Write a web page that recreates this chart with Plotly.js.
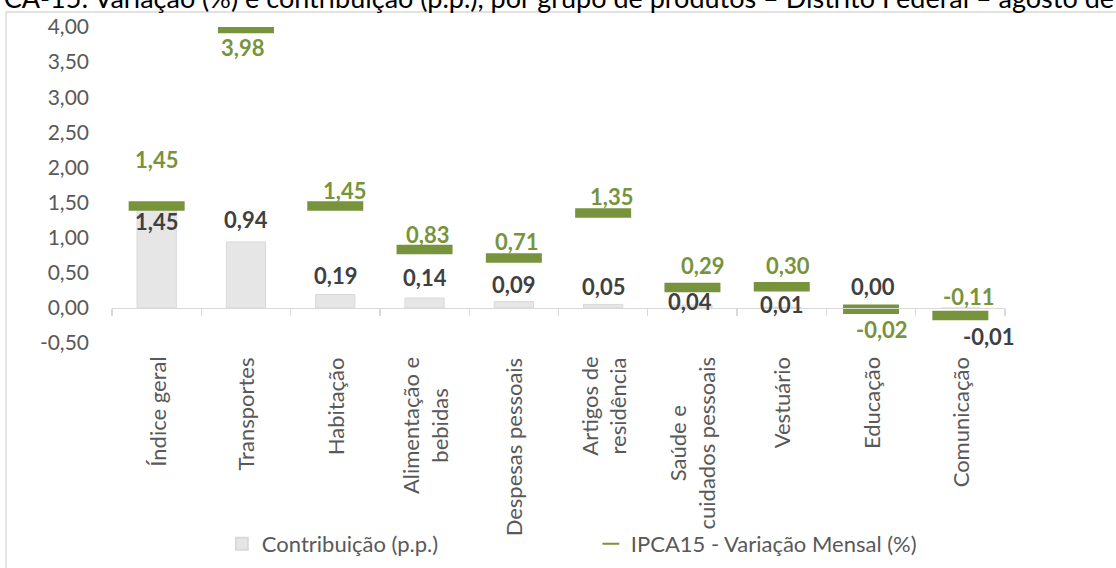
<!DOCTYPE html>
<html><head><meta charset="utf-8">
<script src="https://cdn.plot.ly/plotly-3.0.1.min.js"></script>
<style>html,body{margin:0;padding:0;background:#fff;}#chart{width:1116px;height:568px;}</style>
</head><body><div id="chart"></div>
<script>
// ---- data ----
const categories = ['Índice geral','Transportes','Habitação','Alimentação e<br>bebidas','Despesas pessoais','Artigos de<br>residência','Saúde e<br>cuidados pessoais','Vestuário','Educação','Comunicação'];
const contribuicao = [1.45, 0.94, 0.19, 0.14, 0.09, 0.05, 0.04, 0.01, 0.00, -0.01];
const variacao = [1.45, 3.98, 1.45, 0.83, 0.71, 1.35, 0.29, 0.30, -0.02, -0.11];
const yTicks = [-0.5, 0, 0.5, 1, 1.5, 2, 2.5, 3, 3.5, 4];
const seriesNames = ['Contribuição (p.p.)', 'IPCA15 - Variação Mensal (%)'];
const titleText = 'IPCA-15: Variação (%) e contribuição (p.p.), por grupo de produtos – Distrito Federal – agosto de 2022';

// ---- label offsets (style, px) ----
const contribShiftY = [-15, 22, 19, 21, 17, 18, 4, 3, 21, -28];
const contribShiftX = [0, 0, 0, 0, 0, 0, -2, 0, 2, 29];
const varShiftY = [47, -19, 16, 15, 17, 17, 22, 21, -20, 19];
const varShiftX = [0, -3, 9, 3, 3, 8, 10, 6, 11, 9];

const FONT = 'Lato, "Open Sans", sans-serif';
const GREEN = '#77933C';
const DARK = '#404040';
const GREY_TXT = '#595959';
const fmt = v => v.toFixed(2).replace('.', ',');

const traces = [
  {
    type: 'bar', name: seriesNames[0], x: categories, y: contribuicao,
    width: 0.44,
    marker: {color: '#E6E6E6', line: {color: '#D9D9D9', width: 1}},
    hoverinfo: 'skip'
  },
  {
    type: 'scatter', mode: 'markers', name: seriesNames[1], x: categories, y: variacao,
    marker: {symbol: 'line-ew', size: 40, color: GREEN, line: {color: GREEN, width: 9.5}},
    hoverinfo: 'skip'
  }
];

const annotations = [];
categories.forEach((c, i) => {
  annotations.push({
    x: c, y: 0, xref: 'x', yref: 'paper', yanchor: 'top', xanchor: 'center', yshift: -12,
    text: c, textangle: -90, align: 'center', showarrow: false,
    font: {family: FONT, size: 22, color: GREY_TXT}
  });
  annotations.push({
    x: c, y: contribuicao[i], xref: 'x', yref: 'y', showarrow: false,
    xanchor: 'center', yanchor: 'middle', xshift: contribShiftX[i], yshift: contribShiftY[i],
    text: '<b>' + fmt(contribuicao[i]) + '</b>',
    font: {family: FONT, size: 22, color: DARK}
  });
  annotations.push({
    x: c, y: variacao[i], xref: 'x', yref: 'y', showarrow: false,
    xanchor: 'center', yanchor: 'middle', xshift: varShiftX[i], yshift: varShiftY[i],
    text: '<b>' + fmt(variacao[i]) + '</b>',
    font: {family: FONT, size: 22, color: GREEN}
  });
});
annotations.push({
  x: 0, y: 1, xref: 'paper', yref: 'paper', xanchor: 'left', yanchor: 'middle',
  xshift: -134, yshift: 30, showarrow: false, text: titleText,
  font: {family: FONT, size: 27, color: '#000000'}
});

const layout = {
  width: 1116, height: 568,
  margin: {l: 112, r: 111, t: 27, b: 225, pad: 0, autoexpand: false},
  paper_bgcolor: '#ffffff', plot_bgcolor: '#ffffff',
  separators: ',.',
  showlegend: true,
  legend: {
    orientation: 'h', x: 0.123, y: -0.636, xanchor: 'left', yanchor: 'middle',
    font: {family: FONT, size: 22, color: GREY_TXT},
    entrywidth: 324, entrywidthmode: 'pixels', traceorder: 'normal', itemsizing: 'constant'
  },
  xaxis: {
    type: 'category', anchor: 'free', position: 0.5 / 4.5, range: [-0.5, categories.length - 0.5],
    showline: true, linecolor: '#D9D9D9', linewidth: 1.3,
    ticks: 'outside', tickson: 'boundaries', ticklen: 7, tickcolor: '#D9D9D9', tickwidth: 1.3,
    showticklabels: false, showgrid: false, zeroline: false, fixedrange: true
  },
  yaxis: {
    range: [-0.5, 4.0], tickvals: yTicks, ticktext: yTicks.map(fmt),
    showgrid: false, zeroline: false, showline: false, ticks: '',
    ticklabelstandoff: 22,
    tickfont: {family: FONT, size: 21, color: GREY_TXT}, fixedrange: true
  },
  shapes: [{
    type: 'rect', xref: 'paper', yref: 'paper',
    x0: (6 - 112) / 893, x1: 1.3, y0: -1, y1: (343 - 12) / 316,
    line: {color: '#D9D9D9', width: 1.3}, fillcolor: 'rgba(0,0,0,0)', layer: 'below'
  }],
  annotations: annotations,
  hovermode: false
};

Plotly.newPlot('chart', traces, layout, {displayModeBar: false, staticPlot: true});
</script>
</body></html>
